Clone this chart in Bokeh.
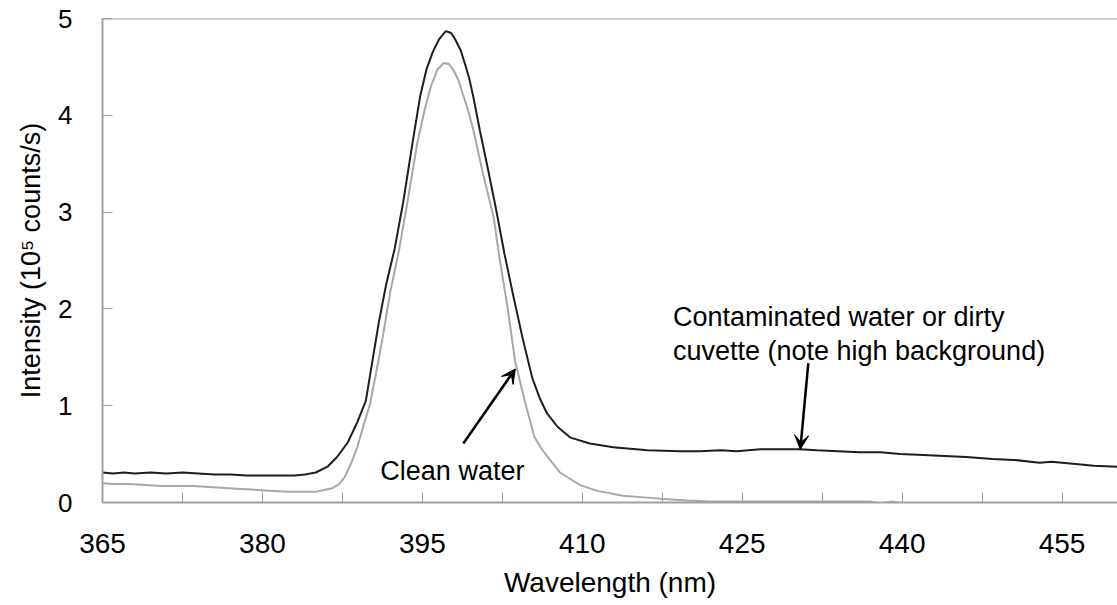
from bokeh.plotting import figure
from bokeh.models import Range1d, FixedTicker, Span, Arrow, VeeHead
from bokeh.core.properties import value
from bokeh.embed import file_html
from bokeh.resources import INLINE

# ---- data ----
contam_wl = [365.0, 366.0, 367.0, 368.0, 369.5, 371.0, 372.5, 374.0, 375.5, 377.0,
             378.5, 380.0, 381.5, 383.0, 384.0, 385.0, 386.1, 387.0, 388.0, 388.9,
             389.7, 390.3, 390.9, 391.6, 392.4, 393.2, 394.1, 394.8, 395.4, 396.0,
             396.6, 397.2, 397.7, 398.1, 398.6, 399.0, 399.4, 399.8, 400.4, 401.2,
             402.0, 402.7, 403.5, 404.4, 405.3, 406.0, 406.7, 407.7, 408.9, 410.7,
             412.9, 416.1, 419.2, 421.0, 423.0, 424.5, 426.7, 428.5, 430.4, 432.0,
             434.0, 436.0, 438.0, 439.8, 442.0, 444.0, 446.0, 448.5, 450.5, 452.9,
             454.0, 456.0, 458.0, 460.2]
contam_int = [0.31, 0.30, 0.31, 0.30, 0.31, 0.30, 0.31, 0.30, 0.29, 0.29,
              0.28, 0.28, 0.28, 0.28, 0.29, 0.31, 0.37, 0.47, 0.62, 0.83,
              1.05, 1.45, 1.85, 2.25, 2.62, 3.10, 3.73, 4.20, 4.48, 4.66,
              4.79, 4.87, 4.85, 4.78, 4.67, 4.53, 4.38, 4.18, 3.84, 3.42,
              2.98, 2.57, 2.15, 1.70, 1.29, 1.08, 0.92, 0.78, 0.67, 0.61,
              0.57, 0.54, 0.53, 0.53, 0.54, 0.53, 0.55, 0.55, 0.55, 0.54,
              0.53, 0.52, 0.52, 0.50, 0.49, 0.48, 0.47, 0.45, 0.44, 0.41,
              0.42, 0.40, 0.38, 0.37]

clean_wl = [365.0, 366.0, 367.5, 369.0, 370.5, 372.0, 373.5, 375.0, 376.5, 378.0,
            379.5, 381.0, 382.5, 384.0, 385.0, 385.8, 386.6, 387.2, 387.7, 388.3,
            388.9, 389.5, 390.1, 390.7, 391.3, 392.0, 392.8, 393.6, 394.5, 395.2,
            395.8, 396.4, 397.0, 397.5, 397.9, 398.4, 398.8, 399.3, 399.8, 400.7,
            401.7, 402.2, 403.0, 403.7, 404.6, 405.5, 406.2, 406.9, 407.9, 409.8,
            411.4, 413.8, 417.3, 419.8, 422.0, 430.0, 437.0, 438.0, 439.0, 440.0,
            445.0, 450.0, 455.0, 460.2]
clean_int = [0.20, 0.19, 0.19, 0.18, 0.17, 0.17, 0.17, 0.16, 0.15, 0.14,
             0.13, 0.12, 0.11, 0.11, 0.11, 0.13, 0.15, 0.19, 0.26, 0.40,
             0.57, 0.80, 1.02, 1.36, 1.72, 2.18, 2.60, 3.10, 3.70, 4.05,
             4.30, 4.47, 4.54, 4.53, 4.47, 4.36, 4.22, 4.05, 3.84, 3.39,
             2.94, 2.55, 2.01, 1.46, 1.05, 0.68, 0.55, 0.45, 0.31, 0.18,
             0.12, 0.07, 0.04, 0.02, 0.01, 0.01, 0.01, -0.01, 0.01, -0.01,
             -0.01, -0.02, -0.02, -0.02]

x_tick_values = [365, 380, 395, 410, 425, 440, 455]
x_minor_values = [372.5, 387.5, 402.5, 417.5, 432.5, 447.5]
y_tick_values = [0, 1, 2, 3, 4, 5]

clean_label = "Clean water"
contam_label_1 = "Contaminated water or dirty"
contam_label_2 = "cuvette (note high background)"
clean_arrow = (398.84, 0.61, 403.72, 1.38)
contam_arrow = (431.2, 1.44, 430.45, 0.55)

FONT = "Liberation Sans"
AXIS_GRAY = "#a0a0a0"

p = figure(width=1117, height=605, output_backend="svg", toolbar_location=None,
           x_range=Range1d(365, 460.2), y_range=Range1d(0, 5),
           min_border_left=102, min_border_right=0, min_border_top=18,
           min_border_bottom=103)
p.outline_line_color = None
p.xgrid.visible = False
p.ygrid.visible = False
p.background_fill_color = "white"

p.line(clean_wl, clean_int, line_color="#a8a8a8", line_width=2)
p.line(contam_wl, contam_int, line_color="#1e1e1e", line_width=2)

p.add_layout(Span(location=5, dimension="width", line_color=AXIS_GRAY, line_width=2))

# x axis
xa = p.xaxis[0]
xa.ticker = FixedTicker(ticks=x_tick_values, minor_ticks=x_minor_values)
xa.axis_line_color = AXIS_GRAY
xa.axis_line_width = 2
xa.major_tick_in = 10
xa.major_tick_out = 0
xa.minor_tick_in = 10
xa.minor_tick_out = 0
xa.major_tick_line_color = AXIS_GRAY
xa.minor_tick_line_color = AXIS_GRAY
xa.major_label_text_font = FONT
xa.major_label_text_font_size = "28px"
xa.major_label_text_color = "black"
xa.major_label_standoff = 31
xa.axis_label = "Wavelength (nm)"
xa.axis_label_text_font = FONT
xa.axis_label_text_font_size = "28px"
xa.axis_label_text_font_style = "normal"
xa.axis_label_text_color = "black"
xa.axis_label_standoff = 11

# y axis
ya = p.yaxis[0]
ya.ticker = FixedTicker(ticks=y_tick_values)
ya.axis_line_color = AXIS_GRAY
ya.axis_line_width = 2
ya.major_tick_in = 10
ya.major_tick_out = 0
ya.minor_tick_in = 0
ya.minor_tick_out = 0
ya.major_tick_line_color = AXIS_GRAY
ya.major_label_text_font = FONT
ya.major_label_text_font_size = "26px"
ya.major_label_text_color = "black"
ya.major_label_standoff = 30
ya.axis_label = "Intensity (10\u2075 counts/s)"
ya.axis_label_text_font = FONT
ya.axis_label_text_font_size = "27px"
ya.axis_label_text_font_style = "normal"
ya.axis_label_text_color = "black"
ya.axis_label_standoff = 9

# annotations
p.text(x=[391.06], y=[0.33], text=[clean_label], text_font=value(FONT),
       text_font_size="27px", text_color="black", text_baseline="alphabetic",
       text_align="left")
p.text(x=[418.5, 418.5], y=[1.92, 1.567], text=[contam_label_1, contam_label_2],
       text_font=value(FONT), text_font_size="27px", text_color="black",
       text_baseline="alphabetic", text_align="left")

for (x0, y0, x1, y1) in (clean_arrow, contam_arrow):
    p.add_layout(Arrow(x_start=x0, y_start=y0, x_end=x1, y_end=y1,
                       line_color="black", line_width=2.5,
                       end=VeeHead(size=14, fill_color="black", line_color="black")))

open("out.html", "w").write(file_html(p, INLINE))
